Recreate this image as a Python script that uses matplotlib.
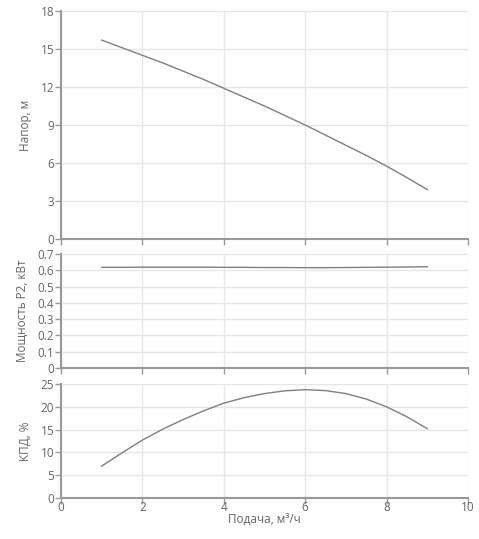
import matplotlib
matplotlib.use('Agg')
import matplotlib.pyplot as plt
import numpy as np

plt.rcParams['font.family'] = ['Open Sans', 'DejaVu Sans']

# Flow, m3/h
flow = [1, 1.5, 2, 2.5, 3, 3.5, 4, 4.5, 5, 5.5, 6, 6.5, 7, 7.5, 8, 8.5, 9]
# Head, m
head = [15.7, 15.1, 14.5, 13.9, 13.25, 12.6, 11.9, 11.2, 10.5, 9.75,
        9.0, 8.2, 7.4, 6.6, 5.75, 4.85, 3.9]
# Power P2, kW
power = [0.618, 0.618, 0.619, 0.619, 0.619, 0.619, 0.618, 0.618, 0.617,
         0.617, 0.616, 0.616, 0.617, 0.618, 0.619, 0.620, 0.622]
# Efficiency, %
eff = [7.0, 9.9, 12.7, 15.1, 17.2, 19.1, 20.8, 22.0, 22.9, 23.5,
       23.75, 23.55, 22.9, 21.7, 20.0, 17.8, 15.2]

xlabel = 'Подача, м³/ч'
panels = [
    ('Напор, м', head, 18, 3),
    ('Мощность Р2, кВт', power, 0.7, 0.1),
    ('КПД, %', eff, 25, 5),
]

W, H = 479, 539
fig = plt.figure(figsize=(W / 100, H / 100), dpi=100)

# pixel boxes: (top, bottom)
boxes = [(11, 239), (254, 368), (384, 498)]
left, right = 61, 468

textc = '#666666'
for i, ((lab, vals, ymax, step), (t, b)) in enumerate(zip(panels, boxes)):
    ax = fig.add_axes([left / W, 1 - b / H, (right - left) / W, (b - t) / H])
    ax.plot(flow, vals, color='#7f7f7f', lw=1.0)
    ax.set_xlim(0, 10)
    ax.set_ylim(0, ymax)
    ax.set_xticks(np.arange(0, 11, 2))
    ax.set_yticks(np.arange(0, ymax + step / 2, step))
    ax.grid(True, color='#e6e6ea', lw=1)
    ax.set_axisbelow(True)
    for s in ['top', 'right']:
        ax.spines[s].set_visible(False)
    for s in ['left', 'bottom']:
        ax.spines[s].set_color('#999999')
        ax.spines[s].set_linewidth(1.5)
    ax.tick_params(colors='#999999', labelcolor=textc, labelsize=8.5,
                   length=4, width=1, pad=1)
    ax.tick_params(axis='x', pad=-2)
    ax.set_ylabel(lab, color=textc, fontsize=8.5, labelpad=6)
    if step < 1:
        ax.set_yticklabels([('%g' % v) for v in ax.get_yticks()])
    if i < 2:
        ax.tick_params(axis='x', labelbottom=False)
    else:
        ax.set_xlabel(xlabel, color=textc, fontsize=8.5, labelpad=-1)

fig.savefig('out.png', dpi=100)
